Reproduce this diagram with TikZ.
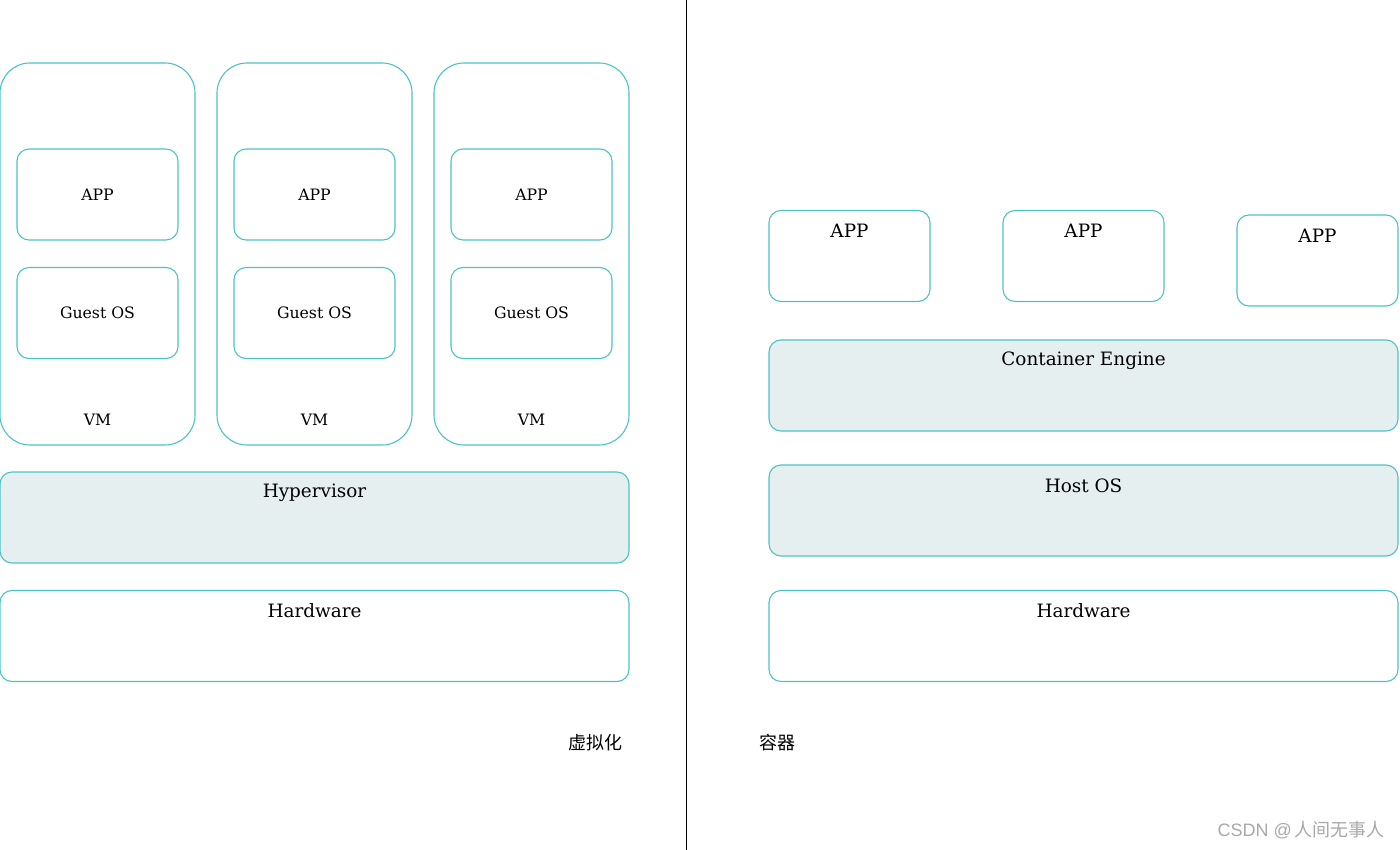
\documentclass[tikz,border=0pt]{standalone}
\usepackage{fontspec}
\setmainfont{DejaVu Serif}
\newfontfamily\cjk{Noto Sans CJK SC}
\newfontfamily\wmsans{Liberation Sans}
\definecolor{edge}{HTML}{4CC3C3}
\definecolor{pale}{HTML}{E6EFF0}
\definecolor{mark}{HTML}{A8A8A8}
\begin{document}
\begin{tikzpicture}[x=1pt,y=-1pt,
  box/.style={draw=edge,line width=1.1pt,rounded corners=12pt,inner sep=0pt,minimum width=161pt,minimum height=91pt},
  vmbox/.style={draw=edge,line width=1.1pt,rounded corners=30pt,inner sep=0pt,minimum width=195pt,minimum height=382pt},
  wide/.style={draw=edge,line width=1.1pt,rounded corners=12pt,inner sep=0pt,minimum width=629pt,minimum height=91pt},
  shaded/.style={fill=pale},
  small/.style={font=\fontsize{15.7}{18}\selectfont,inner sep=0pt},
  big/.style={font=\fontsize{18.4}{21}\selectfont,inner sep=0pt},
  han/.style={font=\cjk\fontsize{18}{20}\selectfont,inner sep=0pt}]
\useasboundingbox (0,0) rectangle (1400,850);
\coordinate (divtop) at (686,0);
\coordinate (divbot) at (686,850);
\draw[line width=1pt] (divtop) -- (divbot);
% VMs
\foreach \i/\x in {1/97.5,2/314.5,3/531.5}{
  \node[vmbox] (vm\i) at (\x,254) {};
  \node[box] (app\i) at (\x,194.5) {};
  \node[small] (appt\i) at (app\i.center) {APP};
  \node[box] (guest\i) at (\x,313) {};
  \node[small] (guestt\i) at (guest\i.center) {Guest OS};
  \node[small] (vmt\i) at (\x,420) {VM};
}
\node[wide,shaded] (hyper) at (314.5,517.5) {};
\node[big] (hypert) at (314.5,493) {Hypervisor};
\node[wide] (hwl) at (314.5,636) {};
\node[big] (hwlt) at (314.5,611) {Hardware};
\node[han] (virt) at (595.5,743) {虚拟化};
% containers
\node[box] (capp1) at (849.5,256) {};
\node[big] (capt1) at (849.5,231) {APP};
\node[box] (capp2) at (1083.5,256) {};
\node[big] (capt2) at (1083.5,231) {APP};
\node[box] (capp3) at (1317.5,260.5) {};
\node[big] (capt3) at (1317.5,236) {APP};
\node[wide,shaded] (engine) at (1083.5,385.5) {};
\node[big] (enginet) at (1083.5,361) {Container Engine};
\node[wide,shaded] (host) at (1083.5,510.5) {};
\node[big] (hostt) at (1083.5,486) {Host OS};
\node[wide] (hwr) at (1083.5,636) {};
\node[big] (hwrt) at (1083.5,611) {Hardware};
\node[han] (cont) at (777.5,743) {容器};
\node[text=mark,inner sep=0pt,anchor=east] (wm) at (1385,830) {\wmsans\fontsize{18}{20}\selectfont CSDN @\,\cjk 人间无事人};
\end{tikzpicture}
\end{document}
